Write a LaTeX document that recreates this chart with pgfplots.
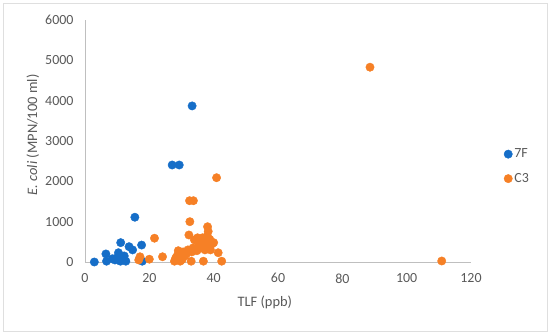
\documentclass[border=0pt]{standalone}
\usepackage{pgfplots}
\pgfplotsset{compat=1.18}
\usepackage{fontspec}
\setmainfont{Carlito}
\definecolor{cblue}{RGB}{22,110,200}
\definecolor{corange}{RGB}{246,128,38}
\definecolor{tickgray}{RGB}{89,89,89}
\definecolor{axgray}{RGB}{191,191,191}
\begin{document}
\begin{tikzpicture}
\useasboundingbox (0,0) rectangle (550bp,334bp);
\draw[color=gray!25, line width=0.8bp] (3bp,3bp) rectangle (547bp,331bp);
\begin{axis}[
  at={(85bp,72bp)}, anchor=south west,
  scale only axis, width=386bp, height=242bp,
  xmin=0, xmax=120, ymin=0, ymax=6000,
  xtick={0,20,...,120}, ytick={0,1000,...,6000},
  axis x line=bottom, axis y line=left,
  axis line style={-, axgray, line width=0.8bp},
  major tick length=0pt,
  clip=false,
  tick label style={font=\fontsize{14}{16}\selectfont, text=tickgray},
  /pgf/number format/assume math mode=true,
  /pgf/number format/1000 sep={},
  yticklabel style={xshift=-8bp},
  xticklabel style={yshift=-8bp},
  xlabel={TLF (ppb)},
  ylabel={\textit{E. coli} (MPN/100 ml)},
  label style={font=\fontsize{14.5}{16}\selectfont, text=tickgray},
  xlabel style={at={(axis description cs:0.466,-0.165)}, anchor=center},
  ylabel style={at={(axis description cs:-0.135,0.525)}, anchor=center},
  legend style={at={(rel axis cs:1.085,0.395)}, anchor=west, draw=none, fill=none,
    font=\fontsize{14}{16}\selectfont, text=tickgray, row sep=10bp, inner xsep=0pt},
  legend cell align=left,
  legend image code/.code={\draw[#1] plot coordinates {(0.15cm,0cm)};},
]
\addplot[only marks, mark=*, mark size=4.2bp, color=cblue, mark options={draw=cblue, fill=cblue}] coordinates {
(2.9,0) (6.5,200) (6.7,20) (8.5,80) (9.3,50) (9.8,100) (10.4,230) (10.5,50)
(11,20) (11.1,480) (11.7,80) (12.2,150) (12.7,20) (13.7,380) (14.8,300)
(15.5,1110) (17.6,420) (17.8,20) (27.1,2405) (29.3,2405) (33.3,3870)
};
\addlegendentry{7F}
\addplot[only marks, mark=*, mark size=4.2bp, color=corange, mark options={draw=corange, fill=corange}] coordinates {
(16.7,50) (17.1,130) (20,70) (21.6,590) (24.1,130)
(27.8,20) (28.2,100) (28.5,50) (28.8,180) (29,280) (29.3,120) (29.6,20)
(29.9,220) (30.2,60) (30.5,250) (31,150) (31.5,200) (32,300) (32.3,670)
(32.6,1000) (32.5,1520) (33.7,1520) (33,20) (33.2,250) (33.6,350) (34,550)
(34.5,300) (34.8,280) (35,600) (35.3,400) (35.8,350) (36,400) (36.2,550)
(36.5,600) (36.8,20) (37,450) (37.3,300) (37.5,550) (37.8,350) (38,650)
(38.1,875) (38.3,760) (38.5,400) (38.8,560) (39,300) (39.5,450) (40,480)
(40.9,2090) (41.4,230) (42.5,20) (88.6,4830) (110.9,25)
};
\addlegendentry{C3}
\end{axis}
\end{tikzpicture}
\end{document}
